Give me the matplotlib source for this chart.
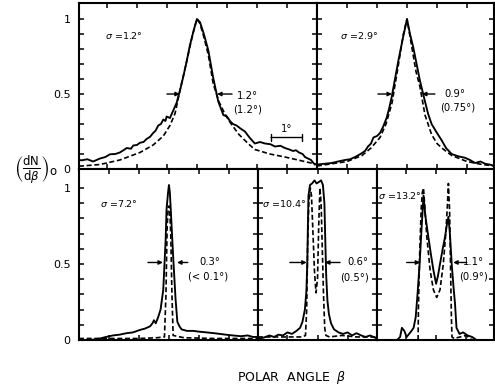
import numpy as np
import matplotlib
matplotlib.use('Agg')
from matplotlib import pyplot as plt

plt.rcParams['font.family'] = ['DejaVu Sans']
plt.rcParams['mathtext.fontset'] = 'dejavusans'

# ---- data (angles in degrees relative to the peak, intensities normalised) ----
sig1_x_solid = [-3.93, -3.84, -3.65, -3.46, -3.23, -3.05, -2.9, -2.72, -2.57, -2.45, -2.34, -2.2, -2.12, -2.0,
                -1.9, -1.78, -1.68, -1.56, -1.46, -1.38, -1.29, -1.2, -1.12, -1.05, -1.01, -0.9, -0.79, -0.68,
                -0.57, -0.45, -0.34, -0.24, -0.14, -0.06, 0.0, 0.1, 0.23, 0.38, 0.54, 0.71, 0.88, 1.0, 1.1,
                1.2, 1.32, 1.45, 1.6, 1.75, 1.93, 2.1, 2.27, 2.45, 2.6, 2.78, 2.93, 3.08, 3.2, 3.3, 3.4,
                3.52, 3.6, 3.7, 3.8, 3.88, 3.93]
sig1_y_solid = [0.06, 0.058, 0.065, 0.05, 0.07, 0.08, 0.098, 0.1, 0.11, 0.125, 0.14, 0.135, 0.157, 0.16,
                0.175, 0.18, 0.2, 0.215, 0.24, 0.255, 0.29, 0.3, 0.33, 0.32, 0.35, 0.34, 0.39, 0.44,
                0.52, 0.62, 0.72, 0.82, 0.9, 0.96, 1.0, 0.98, 0.9, 0.79, 0.61, 0.45, 0.36, 0.35, 0.32,
                0.3, 0.29, 0.27, 0.25, 0.21, 0.17, 0.18, 0.17, 0.165, 0.15, 0.155, 0.14, 0.13, 0.12, 0.125, 0.11,
                0.1, 0.08, 0.07, 0.06, 0.04, 0.03]
sig1_x_dash = [-3.93, -3.84, -3.23, -2.57, -1.9, -1.46, -1.12, -0.9, -0.73, -0.57, -0.34, -0.14, 0.0,
               0.1, 0.23, 0.38, 0.54, 0.73, 0.9, 1.07, 1.4, 1.73, 1.93, 2.43, 2.93, 3.37, 3.8, 4.0]
sig1_y_dash = [0.02, 0.02, 0.03, 0.06, 0.11, 0.16, 0.22, 0.29, 0.37, 0.52, 0.72, 0.9, 1.0,
               0.97, 0.88, 0.76, 0.57, 0.45, 0.38, 0.32, 0.23, 0.165, 0.13, 0.1, 0.08, 0.06, 0.04, 0.03]

sig2_x_solid = [-3.0, -2.75, -2.51, -2.3, -2.07, -1.9, -1.73, -1.55, -1.4, -1.3, -1.2, -1.12, -1.0, -0.9,
                -0.8, -0.68, -0.6, -0.51, -0.4, -0.29, -0.15, 0.0, 0.1, 0.21, 0.32, 0.43, 0.6, 0.7, 0.82,
                1.0, 1.16, 1.3, 1.49, 1.7, 1.93, 2.1, 2.27, 2.45, 2.6, 2.75, 2.93]
sig2_y_solid = [0.03, 0.035, 0.04, 0.05, 0.06, 0.065, 0.08, 0.1, 0.12, 0.15, 0.17, 0.21, 0.22, 0.24,
                0.28, 0.34, 0.4, 0.48, 0.6, 0.72, 0.86, 1.0, 0.9, 0.81, 0.7, 0.59, 0.45, 0.37, 0.3,
                0.24, 0.19, 0.14, 0.1, 0.085, 0.075, 0.06, 0.04, 0.05, 0.035, 0.03, 0.02]
sig2_x_dash = [-3.0, -2.5, -2.0, -1.5, -1.2, -0.9, -0.7, -0.5, -0.3, -0.12, 0.0, 0.12, 0.3, 0.43,
               0.6, 0.82, 1.0, 1.16, 1.49, 2.0, 2.5, 2.93]
sig2_y_dash = [0.02, 0.035, 0.05, 0.09, 0.14, 0.21, 0.3, 0.44, 0.68, 0.9, 1.0, 0.86, 0.65, 0.55,
               0.36, 0.23, 0.17, 0.14, 0.09, 0.05, 0.03, 0.02]

sig3_x_solid = [-3.0, -2.6, -2.3, -2.1, -1.87, -1.65, -1.41, -1.2, -0.97, -0.8, -0.63, -0.55, -0.5, -0.44,
                -0.36, -0.28, -0.19, -0.11, -0.08, -0.03, 0.0, 0.03, 0.06, 0.14, 0.22, 0.28, 0.35, 0.42,
                0.6, 0.81, 1.0, 1.26, 1.5, 1.7, 1.9, 2.13, 2.4, 2.63, 2.8, 2.97]
sig3_y_solid = [0.0, 0.0, 0.01, 0.02, 0.03, 0.035, 0.045, 0.05, 0.066, 0.075, 0.09, 0.11, 0.13, 0.11,
                0.15, 0.2, 0.33, 0.66, 0.86, 0.97, 1.02, 0.97, 0.86, 0.55, 0.27, 0.12, 0.09, 0.07,
                0.06, 0.06, 0.055, 0.05, 0.045, 0.04, 0.035, 0.03, 0.025, 0.03, 0.02, 0.02]
sig3_x_dash = [-3.0, -1.0, -0.4, -0.15, -0.1, -0.06, -0.02, 0.02, 0.06, 0.1, 0.14, 0.5, 1.5, 2.97]
sig3_y_dash = [0.01, 0.01, 0.015, 0.02, 0.3, 0.75, 0.88, 0.88, 0.7, 0.3, 0.03, 0.015, 0.01, 0.01]

sig4_x_solid = [-1.98, -1.8, -1.6, -1.45, -1.3, -1.15, -1.0, -0.85, -0.7, -0.58, -0.5, -0.42, -0.37,
                -0.34, -0.32, -0.3, -0.25, -0.18, -0.1, -0.03, 0.05, 0.12, 0.18, 0.23, 0.26, 0.29, 0.33,
                0.38, 0.45, 0.55, 0.7, 0.85, 1.0, 1.15, 1.3, 1.45, 1.6, 1.75, 1.98]
sig4_y_solid = [0.01, 0.015, 0.03, 0.02, 0.035, 0.03, 0.05, 0.04, 0.06, 0.08, 0.12, 0.2, 0.32,
                0.5, 0.75, 0.95, 1.02, 1.03, 1.05, 1.03, 1.04, 1.05, 1.02, 0.9, 0.65, 0.42, 0.26,
                0.17, 0.11, 0.07, 0.05, 0.04, 0.05, 0.03, 0.045, 0.03, 0.02, 0.03, 0.01]
sig4_x_dash = [-1.98, -1.0, -0.5, -0.4, -0.36, -0.33, -0.29, -0.24, -0.2, -0.15, -0.1, -0.05, 0.0,
               0.04, 0.08, 0.12, 0.16, 0.2, 0.24, 0.28, 0.4, 0.8, 1.3, 1.98]
sig4_y_dash = [0.02, 0.02, 0.02, 0.03, 0.2, 0.6, 0.9, 1.0, 0.95, 0.7, 0.45, 0.31, 0.4,
               0.75, 1.0, 0.9, 0.6, 0.3, 0.08, 0.03, 0.02, 0.03, 0.02, 0.02]

sig5_x_solid = [-1.97, -1.3, -1.2, -1.14, -1.06, -0.98, -0.9, -0.82, -0.75, -0.68, -0.62, -0.55, -0.48,
                -0.42, -0.36, -0.26, -0.17, -0.09, 0.0, 0.06, 0.13, 0.22, 0.3, 0.36, 0.41, 0.46, 0.52,
                0.58, 0.63, 0.68, 0.78, 0.9, 1.05, 1.2, 1.35, 1.93]
sig5_y_solid = [0.0, 0.0, 0.02, 0.08, 0.06, 0.02, 0.04, 0.06, 0.08, 0.15, 0.3, 0.5, 0.75,
                0.95, 0.82, 0.68, 0.56, 0.46, 0.37, 0.42, 0.5, 0.6, 0.68, 0.76, 0.81, 0.7, 0.5,
                0.35, 0.24, 0.08, 0.04, 0.05, 0.03, 0.02, 0.0, 0.0]
sig5_x_dash = [-0.6, -0.59, -0.55, -0.5, -0.46, -0.42, -0.31, -0.2, -0.09, 0.02, 0.13, 0.24, 0.33,
               0.38, 0.41, 0.45, 0.48, 0.51, 0.53, 0.6, 0.8, 1.0, 1.2]
sig5_y_dash = [0.0, 0.2, 0.55, 0.85, 0.97, 1.0, 0.68, 0.46, 0.33, 0.28, 0.33, 0.5, 0.72,
               0.9, 1.03, 0.85, 0.5, 0.15, 0.02, 0.01, 0.02, 0.03, 0.0]

sigma_labels = ['1.2°', '2.9°', '7.2°', '10.4°', '13.2°']
width_labels = ['1.2°', '0.9°', '0.3°', '0.6°', '1.1°']
width_calc_labels = ['(1.2°)', '(0.75°)', '(< 0.1°)', '(0.5°)', '(0.9°)']
y_tick_vals = [0.0, 0.1, 0.2, 0.3, 0.4, 0.5, 0.6, 0.7, 0.8, 0.9, 1.0]
y_tick_labels = ['0', '', '', '', '', '0.5', '', '', '', '', '1']


def main():
  W, H = 495, 385
  fig = plt.figure(figsize=(W/100, H/100), dpi=100)

  # panel boxes in pixels: (left, top, right, bottom), xlim, ylim
  panels = [
    dict(px=(79, 3, 317, 169), xlim=(-3.93, 4.0), ylim=(0, 1.107),
         solid=(sig1_x_solid, sig1_y_solid), dash=(sig1_x_dash, sig1_y_dash), left=True,
         sig=(-3.07, 0.89), arr=(-1.0, -0.57, 1.17, 0.67, 0.5), txt=(1.67, 0.49, 1.67, 0.40)),
    dict(px=(317, 3, 494, 169), xlim=(-3.0, 2.9), ylim=(0, 1.107),
         solid=(sig2_x_solid, sig2_y_solid), dash=(sig2_x_dash, sig2_y_dash), left=False,
         sig=(-2.23, 0.89), arr=(-0.97, -0.5, 0.93, 0.5, 0.5), txt=(1.6, 0.5, 1.7, 0.41)),
    dict(px=(79, 169, 258, 340), xlim=(-3.0, 2.97), ylim=(0, 1.125),
         solid=(sig3_x_solid, sig3_y_solid), dash=(sig3_x_dash, sig3_y_dash), left=True,
         sig=(-2.3, 0.9), arr=(-0.7, -0.2, 0.63, 0.27, 0.51), txt=(1.37, 0.51, 1.3, 0.42)),
    dict(px=(258, 169, 377, 340), xlim=(-1.98, 1.98), ylim=(0, 1.125),
         solid=(sig4_x_solid, sig4_y_solid), dash=(sig4_x_dash, sig4_y_dash), left=False,
         sig=(-1.85, 0.9), arr=(-0.92, -0.36, 0.75, 0.25, 0.51), txt=(1.36, 0.51, 1.22, 0.41)),
    dict(px=(377, 169, 494, 340), xlim=(-1.97, 1.93), ylim=(0, 1.125),
         solid=(sig5_x_solid, sig5_y_solid), dash=(sig5_x_dash, sig5_y_dash), left=False,
         sig=(-1.93, 0.95), arr=(-0.98, -0.53, 1.02, 0.57, 0.51), txt=(1.23, 0.51, 1.24, 0.42)),
  ]

  for i, p in enumerate(panels):
    l, t, r, b = p['px']
    ax = fig.add_axes([l/W, 1 - b/H, (r - l)/W, (b - t)/H])
    ax.plot(*p['solid'], '-', color='k', lw=1.35)
    ax.plot(*p['dash'], color='k', lw=1.2, linestyle=(0, (3, 1.6)))
    ax.set_xlim(*p['xlim'])
    ax.set_ylim(*p['ylim'])
    ax.set_xticks(np.arange(np.ceil(p['xlim'][0]), p['xlim'][1] + 0.01, 1.0))
    ax.set_yticks(y_tick_vals)
    ax.set_yticklabels(y_tick_labels)
    ax.tick_params(direction='in', top=True, right=True, length=3.5, width=1.1,
                   labelbottom=False, labelleft=p['left'], labelsize=8, pad=6)
    for s in ax.spines.values():
      s.set_linewidth(1.5)

    ax.text(p['sig'][0], p['sig'][1], r'$\sigma$ =' + sigma_labels[i], fontsize=6.8, ha='left', va='center')

    x0, x1, x2, x3, ya = p['arr']
    arrow = dict(arrowstyle='-|>', lw=1.0, color='k', mutation_scale=6, shrinkA=0, shrinkB=0)
    ax.annotate('', xy=(x1, ya), xytext=(x0, ya), arrowprops=arrow)
    ax.annotate('', xy=(x3, ya), xytext=(x2, ya), arrowprops=arrow)
    tx, ty, cx, cy = p['txt']
    ax.text(tx, ty, width_labels[i], fontsize=7.2, ha='center', va='center')
    ax.text(cx, cy, width_calc_labels[i], fontsize=7.2, ha='center', va='center')

    if i == 0:
      # 1 degree scale bar
      ax.annotate('', xy=(3.5, 0.21), xytext=(2.47, 0.21),
                  arrowprops=dict(arrowstyle='|-|', lw=1.0, color='k', mutation_scale=2.5,
                                  shrinkA=0, shrinkB=0))
      ax.text(2.98, 0.27, '1°', fontsize=7.2, ha='center', va='center')

  fig.text(36/W, 1 - 170/H, r'$\left(\frac{\mathrm{dN}}{\mathrm{d}\beta}\right)_{\mathrm{o}}$',
           fontsize=12, ha='center', va='center')
  fig.text(292/W, 1 - 378/H, 'POLAR  ANGLE  $\\beta$', fontsize=9, ha='center', va='center')

  fig.savefig('out.png', dpi=100)
  plt.close()

  return None


if __name__ == '__main__':
  main()
